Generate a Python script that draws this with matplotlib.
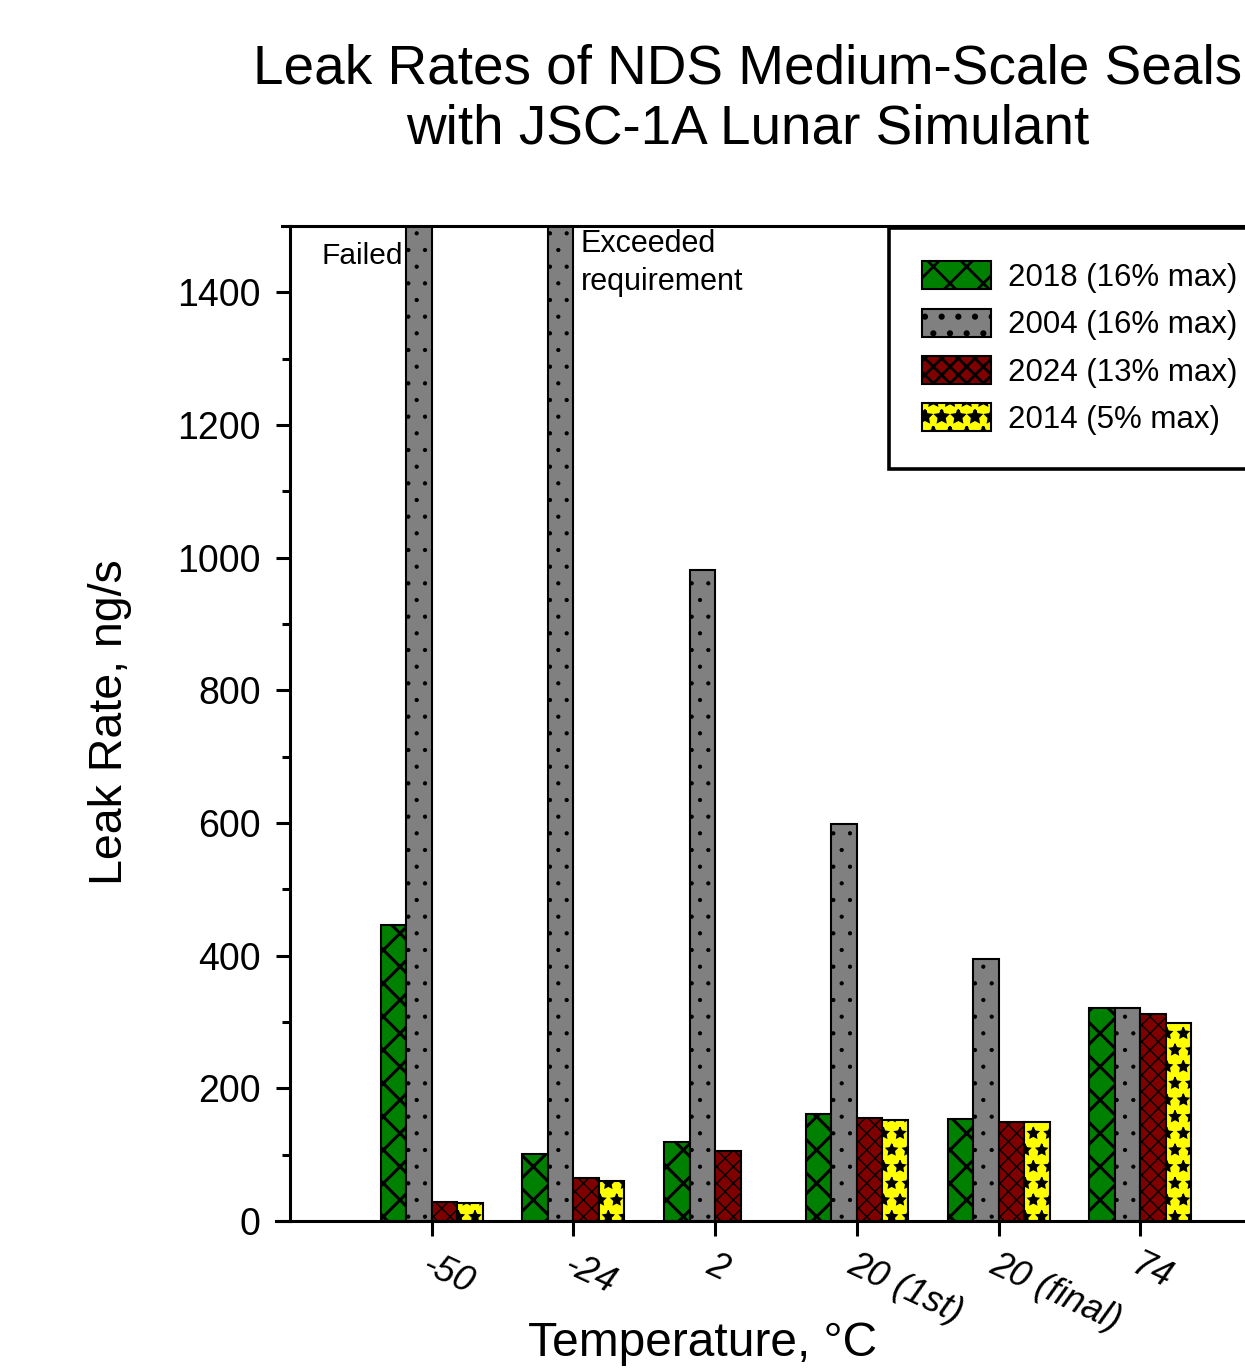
import numpy as np
import matplotlib
matplotlib.use("Agg")
import matplotlib.pyplot as plt

plt.rcParams['font.family'] = ['Liberation Sans', 'DejaVu Sans']
plt.rcParams['hatch.linewidth'] = 2.0

# ---- data ----
categories = ['-50', '-24', '2', '20 (1st)', '20 (final)', '74']
labels = ['2018 (16% max)', '2004 (16% max)', '2024 (13% max)', '2014 (5% max)']
s2018 = [446, 101, 119, 161, 154, 321]
s2004 = [1600, 1600, 982, 599, 395, 321]   # first two off-scale (failed / exceeded)
s2024 = [29, 65, 105, 155, 149, 312]
s2014 = [27, 60, np.nan, 152, 149, 298]
yticks = [0, 200, 400, 600, 800, 1000, 1200, 1400]

series = [s2018, s2004, s2024, s2014]
colors = ['#008000', '#808080', '#800000', '#ffff00']
hatches = ['x', '.', 'xx', '*']
hatch_lw = [2.2, 0.6, 1.0, 1.0]

fig = plt.figure(figsize=(12.45, 13.68), dpi=100)
ax = fig.add_axes([290/1245, 1-1221/1368, (1282-290)/1245, (1221-226)/1368])

x = np.arange(len(categories))
w = 0.18
offsets = [-1.5*w, -0.5*w, 0.5*w, 1.5*w]
handles = []
for vals, c, h, hl, off, lab in zip(series, colors, hatches, hatch_lw, offsets, labels):
    plt.rcParams['hatch.linewidth'] = hl
    b = ax.bar(x + off, vals, width=w, color=c, edgecolor='black', linewidth=1.5,
               hatch=h, label=lab, zorder=2)
    for p in b.patches:
        if hasattr(p, 'set_hatch_linewidth'):
            p.set_hatch_linewidth(hl)
    handles.append(b)
plt.rcParams['hatch.linewidth'] = 2.0

ax.set_xlim(-1.0, 6.0)
ax.set_ylim(0, 1500)
ax.set_yticks(yticks)
ax.set_yticks(np.arange(100, 1500, 200), minor=True)
ax.tick_params(axis='y', which='major', direction='out', length=10, width=2.2,
               labelsize=27, pad=11)
ax.tick_params(axis='y', which='minor', direction='out', length=6, width=2.2)
ax.set_xticks(x)
ax.set_xticklabels(categories, rotation=-25, ha='left', va='top',
                   rotation_mode='anchor', fontstyle='italic', fontsize=26)
ax.tick_params(axis='x', which='major', direction='out', length=11, width=2.2, pad=8)
ax.tick_params(axis='x', which='minor', bottom=False)

for s in ['left', 'top', 'bottom', 'right']:
    ax.spines[s].set_linewidth(2.2)
ax.spines['right'].set_visible(False)

# small extensions of the frame lines to the left of the y axis
ax.plot([-0.014, 0], [0, 0], transform=ax.transAxes, clip_on=False, color='black', lw=2.2)
ax.plot([-0.008, 0], [1, 1], transform=ax.transAxes, clip_on=False, color='black', lw=2.2)

# annotations
ax.text(-0.2, 1443, 'Failed', ha='right', va='baseline', fontsize=21.5)
ax.text(1.05, 1495, 'Exceeded\nrequirement', ha='left', va='top', fontsize=22,
        linespacing=1.32)

# legend
leg = fig.legend(handles=handles, labels=labels, loc='upper left',
                 bbox_to_anchor=(889/1245, 1-228/1368), borderaxespad=0,
                 fontsize=22.5, frameon=True, fancybox=False, edgecolor='black',
                 framealpha=1, handlelength=2.2, handleheight=1.0,
                 handletextpad=0.55, labelspacing=0.5, borderpad=1.07)
leg.get_frame().set_linewidth(2.6)

# titles and axis labels
fig.text(748/1245, 1-84/1368, 'Leak Rates of NDS Medium-Scale Seals', ha='center',
         va='baseline', fontsize=39.5)
fig.text(748/1245, 1-143/1368, 'with JSC-1A Lunar Simulant', ha='center',
         va='baseline', fontsize=39.5)
fig.text(110/1245, 1-722/1368, 'Leak Rate, ng/s', rotation=90, ha='center',
         va='center', fontsize=33.5)
fig.text(703/1245, 1-1356/1368, 'Temperature, °C', ha='center', va='baseline',
         fontsize=34.5)

fig.savefig('out.png', dpi=100)
